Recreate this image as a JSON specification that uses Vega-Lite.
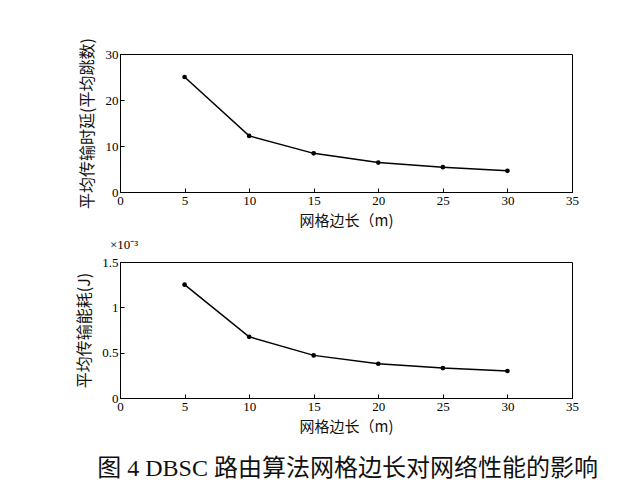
{
  "$schema": "https://vega.github.io/schema/vega-lite/v6.json",
  "background": "white",
  "padding": {"left": 76, "top": 37, "right": 5, "bottom": 5},
  "title": {
    "text": "图 4 DBSC 路由算法网格边长对网络性能的影响",
    "orient": "bottom",
    "anchor": "middle",
    "font": "Liberation Serif, Noto Sans CJK SC",
    "fontSize": 24,
    "fontWeight": "normal",
    "color": "#111111",
    "offset": 22,
    "dx": 20
  },
  "datasets": {
    "delay": [
      {"grid": 5, "delay": 25.0},
      {"grid": 10, "delay": 12.2},
      {"grid": 15, "delay": 8.4},
      {"grid": 20, "delay": 6.4},
      {"grid": 25, "delay": 5.4},
      {"grid": 30, "delay": 4.6}
    ],
    "energy": [
      {"grid": 5, "energy": 1.25},
      {"grid": 10, "energy": 0.675},
      {"grid": 15, "energy": 0.47},
      {"grid": 20, "energy": 0.378},
      {"grid": 25, "energy": 0.33},
      {"grid": 30, "energy": 0.298}
    ]
  },
  "spacing": 9,
  "vconcat": [
    {
      "width": 452,
      "height": 138,
      "data": {"name": "delay"},
      "mark": {"type": "line", "color": "black", "strokeWidth": 1.5, "point": {"filled": true, "size": 22, "color": "black"}},
      "encoding": {
        "x": {"field": "grid", "type": "quantitative", "scale": {"domain": [0, 35], "nice": false},
              "axis": {"values": [0, 5, 10, 15, 20, 25, 30, 35], "title": "网格边长（m)", "titlePadding": 6}},
        "y": {"field": "delay", "type": "quantitative", "scale": {"domain": [0, 30], "nice": false},
              "axis": {"values": [0, 10, 20, 30], "title": "平均传输时延(平均跳数)", "titlePadding": 10, "titleFontSize": 16}}
      }
    },
    {
      "width": 452,
      "height": 136,
      "title": {"text": "×10⁻³", "anchor": "start", "frame": "group", "font": "Liberation Serif", "fontSize": 13, "fontWeight": "normal", "color": "black", "offset": 4, "dx": -10},
      "data": {"name": "energy"},
      "mark": {"type": "line", "color": "black", "strokeWidth": 1.5, "point": {"filled": true, "size": 22, "color": "black"}},
      "encoding": {
        "x": {"field": "grid", "type": "quantitative", "scale": {"domain": [0, 35], "nice": false},
              "axis": {"values": [0, 5, 10, 15, 20, 25, 30, 35], "title": "网格边长（m)", "titlePadding": 6}},
        "y": {"field": "energy", "type": "quantitative", "scale": {"domain": [0, 1.5], "nice": false},
              "axis": {"values": [0, 0.5, 1, 1.5], "format": "~g", "title": "平均传输能耗(J)", "titlePadding": 9, "titleFontSize": 16}}
      }
    }
  ],
  "config": {
    "view": {"stroke": "black", "strokeWidth": 1},
    "axis": {
      "grid": false,
      "domainColor": "black",
      "domainWidth": 1,
      "tickColor": "black",
      "tickSize": -4,
      "labelPadding": 6,
      "labelFont": "Liberation Serif",
      "labelFontSize": 13,
      "labelColor": "black",
      "labelFlush": false,
      "labelOverlap": false,
      "titleFont": "Noto Sans CJK SC",
      "titleFontSize": 15,
      "titleFontWeight": "normal",
      "titleColor": "#111111"
    }
  }
}
